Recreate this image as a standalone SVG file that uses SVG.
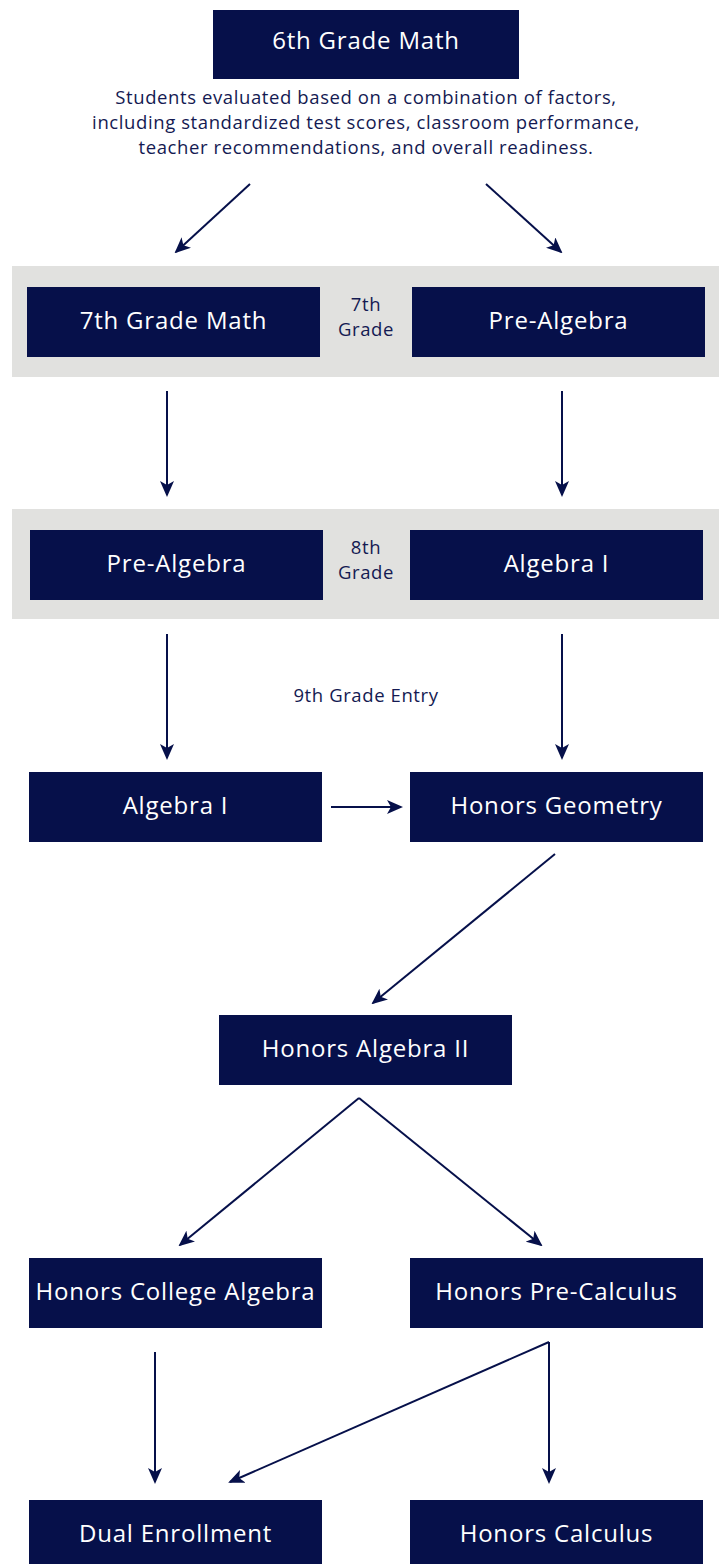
<svg xmlns="http://www.w3.org/2000/svg" width="721" height="1564" viewBox="0 0 721 1564">
<defs>
<style>
.box{fill:#06104a}
.band{fill:#e1e1df}
.bt{font-family:"Open Sans",Lato,sans-serif;font-size:24px;letter-spacing:0.8px;fill:#ffffff;text-anchor:middle}
.lt{font-family:"Open Sans",Lato,sans-serif;font-size:18.5px;letter-spacing:0.6px;fill:#141a52;text-anchor:middle}
.conn{stroke:#06104a;stroke-width:2;fill:none;marker-end:url(#ah)}
</style>
<marker id="ah" viewBox="0 0 16 14" refX="14" refY="7" markerWidth="16" markerHeight="14" markerUnits="userSpaceOnUse" orient="auto">
<path d="M0,0 L16,7 L0,14 L4,7 Z" fill="#06104a"/>
</marker>
</defs>
<rect class="band" x="12" y="266" width="707" height="111"/>
<rect class="band" x="12" y="509" width="707" height="110"/>
<g id="n6">
<rect class="box" x="213" y="10" width="306" height="69"/>
<text class="bt" x="366" y="49">6th Grade Math</text>
</g>
<g id="desc">
<text class="lt" x="366" y="104">Students evaluated based on a combination of factors,</text>
<text class="lt" x="366" y="129">including standardized test scores, classroom performance,</text>
<text class="lt" x="366" y="154">teacher recommendations, and overall readiness.</text>
</g>
<g id="n7a">
<rect class="box" x="27" y="287" width="293" height="70"/>
<text class="bt" x="173.5" y="329">7th Grade Math</text>
</g>
<g id="l7">
<text class="lt" x="366" y="311">7th</text>
<text class="lt" x="366" y="336">Grade</text>
</g>
<g id="n7b">
<rect class="box" x="412" y="287" width="293" height="70"/>
<text class="bt" x="558.5" y="329">Pre-Algebra</text>
</g>
<g id="n8a">
<rect class="box" x="30" y="530" width="293" height="70"/>
<text class="bt" x="176.5" y="572">Pre-Algebra</text>
</g>
<g id="l8">
<text class="lt" x="366" y="554">8th</text>
<text class="lt" x="366" y="579">Grade</text>
</g>
<g id="n8b">
<rect class="box" x="410" y="530" width="293" height="70"/>
<text class="bt" x="556.5" y="572">Algebra I</text>
</g>
<g id="l9">
<text class="lt" x="366" y="702">9th Grade Entry</text>
</g>
<g id="n9a">
<rect class="box" x="29" y="772" width="293" height="70"/>
<text class="bt" x="175.5" y="814">Algebra I</text>
</g>
<g id="n9b">
<rect class="box" x="410" y="772" width="293" height="70"/>
<text class="bt" x="556.5" y="814">Honors Geometry</text>
</g>
<g id="nA2">
<rect class="box" x="219" y="1015" width="293" height="70"/>
<text class="bt" x="365.5" y="1057">Honors Algebra II</text>
</g>
<g id="nCA">
<rect class="box" x="29" y="1258" width="293" height="70"/>
<text class="bt" x="175.5" y="1300">Honors College Algebra</text>
</g>
<g id="nPC">
<rect class="box" x="410" y="1258" width="293" height="70"/>
<text class="bt" x="556.5" y="1300">Honors Pre-Calculus</text>
</g>
<g id="nDE">
<rect class="box" x="29" y="1500" width="293" height="70"/>
<text class="bt" x="175.5" y="1542">Dual Enrollment</text>
</g>
<g id="nHC">
<rect class="box" x="410" y="1500" width="293" height="70"/>
<text class="bt" x="556.5" y="1542">Honors Calculus</text>
</g>
<g id="connectors">
<path class="conn" d="M250,184 L176,252"/>
<path class="conn" d="M486,184 L561,252"/>
<path class="conn" d="M167,391 L167,495"/>
<path class="conn" d="M562,391 L562,495"/>
<path class="conn" d="M167,634 L167,758"/>
<path class="conn" d="M562,634 L562,758"/>
<path class="conn" d="M331,807 L401,807"/>
<path class="conn" d="M555,854 L373,1003"/>
<path class="conn" d="M359,1098 L180,1245"/>
<path class="conn" d="M359,1098 L541,1245"/>
<path class="conn" d="M155,1352 L155,1482"/>
<path class="conn" d="M549,1342 L549,1482"/>
<path class="conn" d="M549,1342 L230,1482"/>
</g>
</svg>
